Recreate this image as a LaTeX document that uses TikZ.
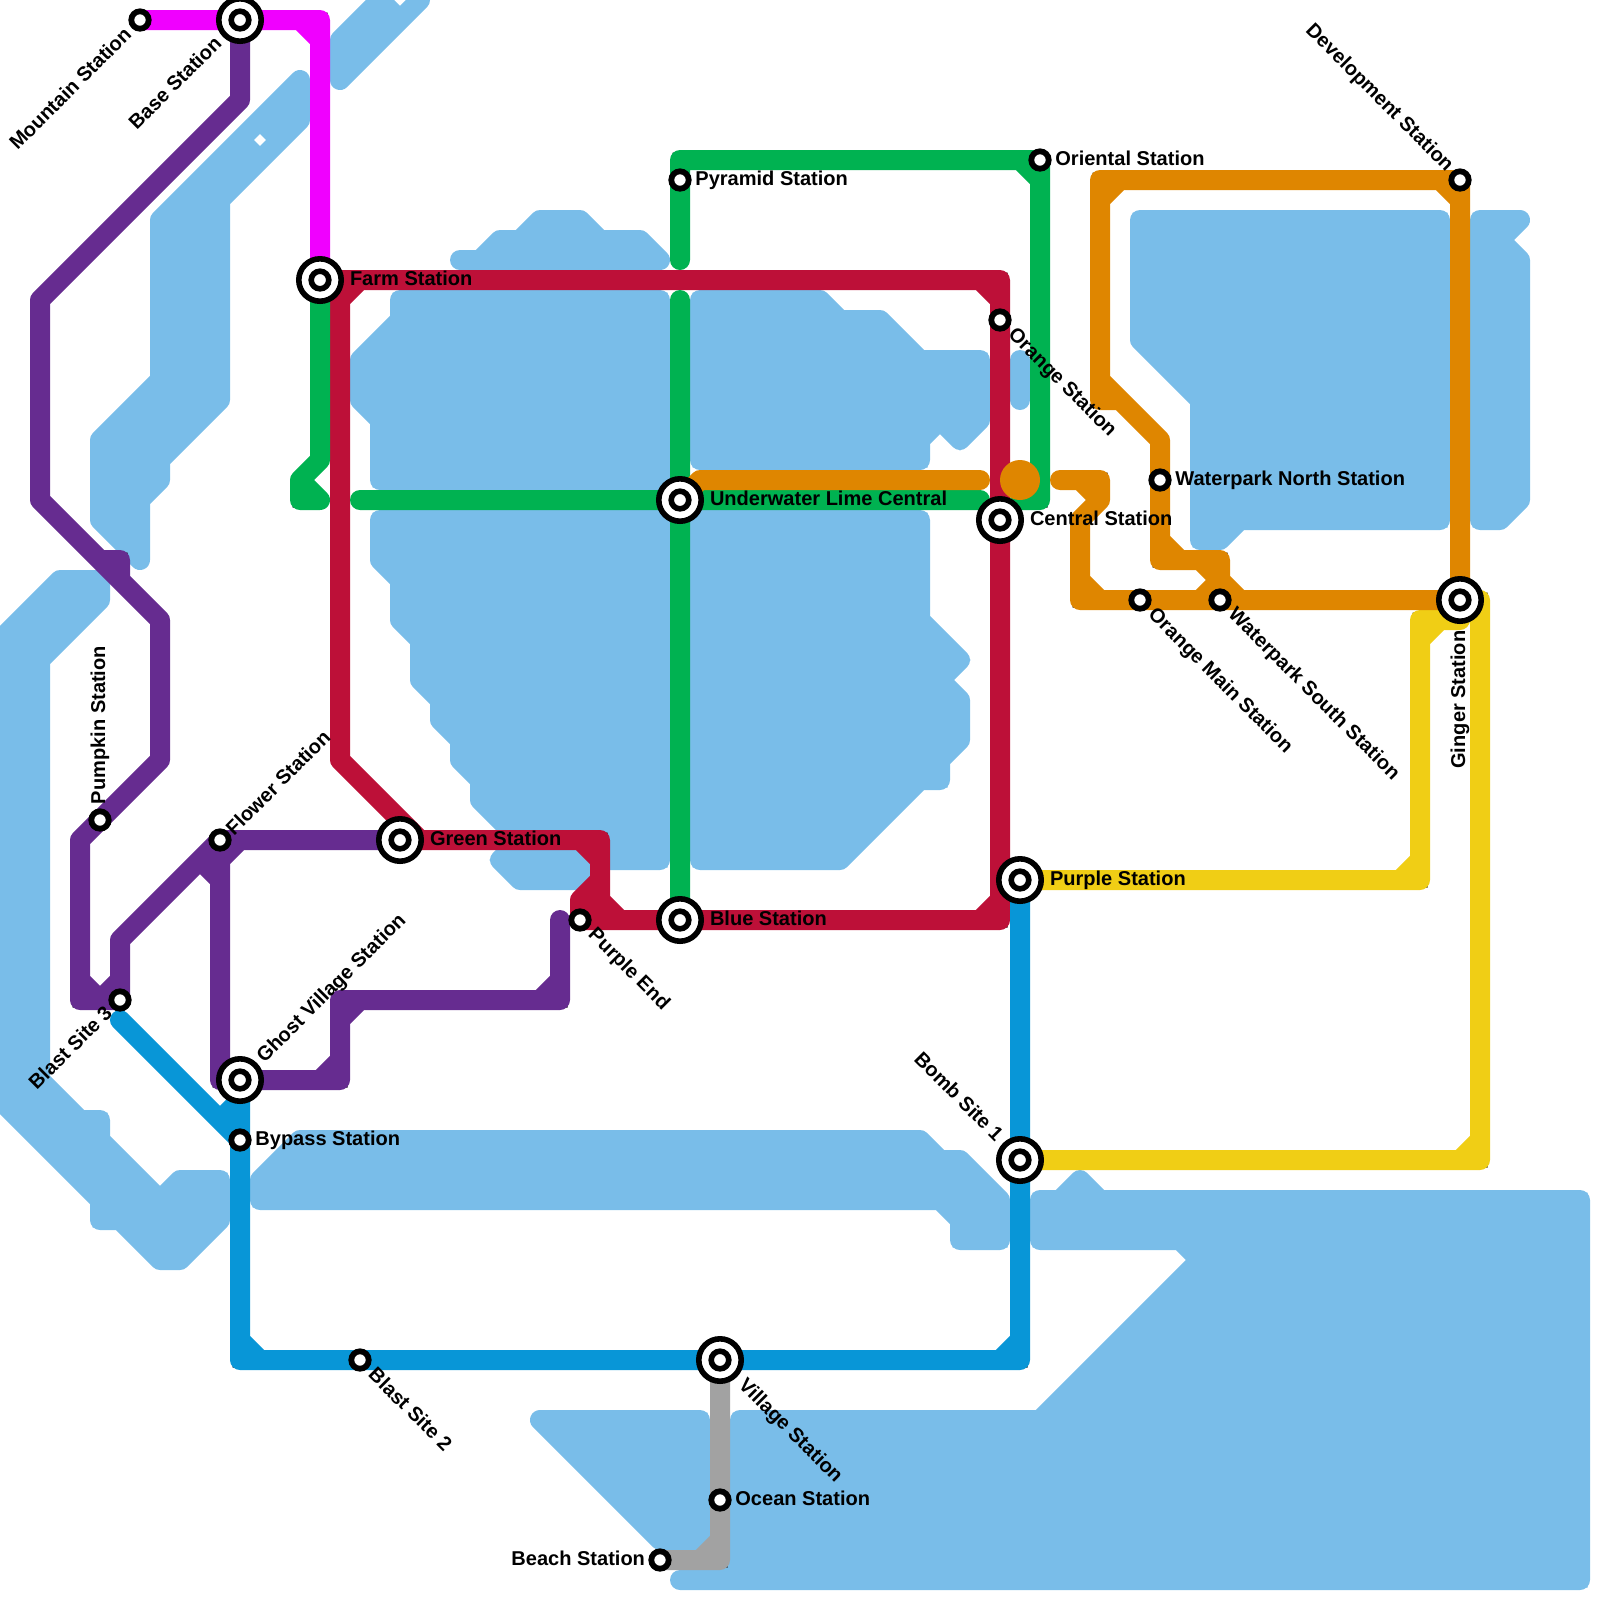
\documentclass[tikz,border=0pt]{standalone}
\usepackage{fontspec}
\setmainfont{Liberation Sans}

\definecolor{mapWater}{HTML}{79BDE9}
\definecolor{mapMagenta}{HTML}{F000FF}
\definecolor{mapPurple}{HTML}{662C90}
\definecolor{mapRed}{HTML}{BD1038}
\definecolor{mapGreen}{HTML}{00B251}
\definecolor{mapOrange}{HTML}{DF8600}
\definecolor{mapYellow}{HTML}{F0CE15}
\definecolor{mapBlue}{HTML}{0896D7}
\definecolor{mapGrey}{HTML}{A2A2A2}

\begin{document}
\begin{tikzpicture}[x=0.2cm,y=-0.2cm]

% --- Styles ---
\tikzset{
    waterArea/.style={
        fill=mapWater,
        draw=mapWater,
        line width=2mm,
        line cap=round,
        line join=round,
        preaction={draw=mapWater,line width=1.5mm,line join=miter,miter limit=1.5}
    },
    metroLine/.style={
        line width=2mm,
        line cap=round,
        line join=round,
        preaction={draw,line width=1.5mm,line join=miter,miter limit=1.5}
    },
    stopSmall/.style={
        circle,
        draw=black,
        fill=white,
        line width=0.58mm,
        inner sep=0pt,
        outer sep=0pt,
        minimum size=1.74mm
    },
    stopHub/.style={
        circle,
        draw=black,
        fill=white,
        line width=0.56mm,
        inner sep=0pt,
        outer sep=0pt,
        minimum size=4.24mm,
        path picture={
            \draw[black,line width=0.56mm] (path picture bounding box.center) circle (0.88mm);
        }
    },
    orangeDot/.style={
        circle,
        fill=mapOrange,
        inner sep=0pt,
        outer sep=0pt,
        minimum size=4mm
    },
    stopLabel/.style={
        font=\fontsize{5.7}{6}\selectfont\bfseries,
        inner sep=0pt,
        outer sep=0pt,
        text height=1.4mm,
        text depth=0pt
    }
}

\useasboundingbox (0,0) rectangle (80,80);

% =========================================================
% Station positions
% =========================================================

\coordinate (mountain) at (7,1);
\coordinate (base) at (12,1);
\coordinate (farm) at (16,14);
\coordinate (pyramid) at (34,9);
\coordinate (oriental) at (52,8);
\coordinate (orangeSt) at (50,16);
\coordinate (underwater) at (34,25);
\coordinate (central) at (50,26);
\coordinate (waterNorth) at (58,24);
\coordinate (waterSouth) at (61,30);
\coordinate (orangeMain) at (57,30);
\coordinate (development) at (73,9);
\coordinate (ginger) at (73,30);
\coordinate (pumpkin) at (5,41);
\coordinate (flower) at (11,42);
\coordinate (greenSt) at (20,42);
\coordinate (blastThree) at (6,50);
\coordinate (ghost) at (12,54);
\coordinate (bypass) at (12,57);
\coordinate (blastTwo) at (18,68);
\coordinate (purpleEnd) at (29,46);
\coordinate (blueSt) at (34,46);
\coordinate (purpleSt) at (51,44);
\coordinate (bombOne) at (51,58);
\coordinate (village) at (36,68);
\coordinate (ocean) at (36,75);
\coordinate (beach) at (33,78);

% =========================================================
% Water
% =========================================================

% Top left
\filldraw[waterArea] (17,4) -- (17,2) -- (19,0) -- (20,1) -- (21,0) -- cycle;
\filldraw[waterArea] (15,4) -- (15,6) -- (11,10) -- (11,20) -- (8,23) -- (8,24) -- (7,25) -- (7,28)
    -- (5,26) -- (5,22) -- (8,19) -- (8,11) -- cycle;
\fill[white] (13,6.71) -- (13.29,7) -- (13,7.29) -- (12.71,7) -- cycle;

% Centre
\filldraw[waterArea] (23,13) -- (24,13) -- (25,12) -- (26,12) -- (27,11) -- (29,11) -- (30,12)
    -- (32,12) -- (33,13) -- cycle;
\filldraw[waterArea] (20,15) -- (33,15) -- (33,24) -- (19,24) -- (19,21) -- (18,20) -- (18,18)
    -- (20,16) -- cycle;
\filldraw[waterArea] (19,26) -- (33,26) -- (33,43) -- (31,43) -- (30,43) -- (29,44) -- (26,44)
    -- (25,43) -- (26,42) -- (24,40) -- (24,39) -- (23,38) -- (23,37) -- (22,36) -- (22,35)
    -- (21,34) -- (21,32) -- (20,31) -- (20,29) -- (19,28) -- cycle;
\filldraw[waterArea] (35,15) -- (41,15) -- (42,16) -- (44,16) -- (46,18) -- (49,18) -- (49,21)
    -- (48,22) -- (47,21) -- (46,22) -- (46,23) -- (35,23) -- cycle;
\filldraw[waterArea] (35,26) -- (46,26) -- (46,31) -- (48,33) -- (47,34) -- (48,35) -- (48,37)
    -- (47,38) -- (47,39) -- (46,39) -- (42,43) -- (35,43) -- cycle;
\draw[waterArea] (51,18) -- (51,20);

% Top right
\filldraw[waterArea] (57,11) -- (72,11) -- (72,26) -- (62,26) -- (61,27) -- (60,27) -- (60,20)
    -- (57,17) -- cycle;
\filldraw[waterArea] (74,11) -- (76,11) -- (75,12) -- (76,13) -- (76,25) -- (75,26) -- (74,26) -- cycle;

% Left edge
\filldraw[waterArea] (3,29) -- (5,29) -- (5,30) -- (2,33) -- (2,54) -- (4,56) -- (5,56) -- (5,57)
    -- (8,60) -- (9,59) -- (11,59) -- (11,61) -- (9,63) -- (8,63) -- (6,61) -- (5,61) -- (5,60)
    -- (-1,54) -- (-1,33) -- cycle;

% Bottom
\filldraw[waterArea] (13,59) -- (15,57) -- (46,57) -- (47,58) -- (48,58) -- (50,60) -- (50,62)
    -- (48,62) -- (48,61) -- (47,60) -- (13,60) -- cycle;
\filldraw[waterArea] (52,60) -- (53,60) -- (54,59) -- (55,60) -- (79,60) -- (79,79) -- (34,79)
    -- (36,79) -- (36,78) -- (37,78) -- (37,71) -- (52,71) -- (60,63) -- (59,62) -- (52,62) -- cycle;
\filldraw[waterArea] (27,71) -- (35,71) -- (35,77) -- (33,77) -- cycle;

% =========================================================
% Lines
% =========================================================

% Magenta
\draw[metroLine,mapMagenta] (mountain) -- (base) -- (16,1) -- (farm)
    (15,1) -- (16,2);

% Purple
\draw[metroLine,mapPurple] (base) -- (12,5) -- (2,15) -- (2,25) -- (8,31) -- (8,38) -- (pumpkin)
    -- (4,42) -- (4,50) -- (blastThree) -- (6,47) -- (flower) -- (greenSt)
    (5,28) -- (6,28) -- (6,29)
    (4,49) -- (5,50) -- (6,49)
    (flower) -- (11,54) -- (ghost) -- (17,54) -- (17,50) -- (28,50) -- (28,46)
    (11,43) -- (12,42)
    (10,43) -- (11,44)
    (16,54) -- (17,53)
    (17,51) -- (18,50)
    (27,50) -- (28,49);

% Red
\draw[metroLine,mapRed] (farm) -- (50,14) -- (orangeSt) -- (central) -- (50,46) -- (blueSt)
    -- (purpleEnd) -- (29,45) -- (30,44)
    (17,14) -- (17,38) -- (21,42) -- (30,42) -- (30,46)
    (49,14) -- (50,15)
    (17,15) -- (18,14)
    (29,42) -- (30,43)
    (30,45) -- (31,46)
    (49,46) -- (50,45);

% Green
\draw[metroLine,mapGreen] (34,13) -- (pyramid) -- (34,8) -- (oriental) -- (52,25) -- (51,25)
    (18,25) -- (underwater) -- (49,25)
    (34,15) -- (underwater) -- (blueSt)
    (farm) -- (16,23) -- (15,24) -- (15,25) -- (16,25) -- (15,24)
    (51,8) -- (52,9);

% Yellow
\draw[metroLine,mapYellow] (purpleSt) -- (71,44) -- (71,31) -- (73,31)
    (ginger) -- (74,30) -- (74,58) -- (bombOne)
    (70,44) -- (71,43)
    (71,32) -- (72,31)
    (73,58) -- (74,57);

% Orange
\draw[metroLine,mapOrange] (development) -- (55,9) -- (55,19) -- (58,22) -- (waterNorth) -- (58,28)
    -- (61,28) -- (waterSouth)
    (61,29) -- (62,30)
    (55,19) -- (55,20) -- (56,20)
    (development) -- (ginger)
    (72,9) -- (73,10)
    (55,10) -- (56,9)
    (53,24) -- (55,24) -- (55,25) -- (54,26) -- (54,30) -- (orangeMain) -- (waterSouth) -- (ginger)
    (54,24) -- (55,25)
    (54,29) -- (55,30)
    (60,28) -- (61,29) -- (60,30)
    (58,27) -- (59,28)
    (underwater) -- (35,24) -- (49,24);
\node[orangeDot] (orangeBlob) at (51,24) {};

% Blue
\draw[metroLine,mapBlue] (purpleSt) -- (bombOne) -- (51,68) -- (village) -- (blastTwo) -- (12,68)
    -- (bypass) -- (ghost)
    (6,51) -- (bypass)
    (50,68) -- (51,67)
    (12,67) -- (13,68)
    (11,56) -- (12,55);

% Grey
\draw[metroLine,mapGrey] (village) -- (ocean) -- (36,78) -- (beach)
    (35,78) -- (36,77);

% =========================================================
% Stations
% =========================================================

\node[stopHub] (baseStop) at (base) {};
\node[stopHub] (farmStop) at (farm) {};
\node[stopHub] (underwaterStop) at (underwater) {};
\node[stopHub] (centralStop) at (central) {};
\node[stopHub] (gingerStop) at (ginger) {};
\node[stopHub] (greenStop) at (greenSt) {};
\node[stopHub] (ghostStop) at (ghost) {};
\node[stopHub] (blueStop) at (blueSt) {};
\node[stopHub] (purpleStop) at (purpleSt) {};
\node[stopHub] (bombOneStop) at (bombOne) {};
\node[stopHub] (villageStop) at (village) {};

\node[stopSmall] (mountainStop) at (mountain) {};
\node[stopSmall] (pyramidStop) at (pyramid) {};
\node[stopSmall] (orientalStop) at (oriental) {};
\node[stopSmall] (orangeStop) at (orangeSt) {};
\node[stopSmall] (waterNorthStop) at (waterNorth) {};
\node[stopSmall] (waterSouthStop) at (waterSouth) {};
\node[stopSmall] (orangeMainStop) at (orangeMain) {};
\node[stopSmall] (developmentStop) at (development) {};
\node[stopSmall] (pumpkinStop) at (pumpkin) {};
\node[stopSmall] (flowerStop) at (flower) {};
\node[stopSmall] (blastThreeStop) at (blastThree) {};
\node[stopSmall] (bypassStop) at (bypass) {};
\node[stopSmall] (blastTwoStop) at (blastTwo) {};
\node[stopSmall] (purpleEndStop) at (purpleEnd) {};
\node[stopSmall] (oceanStop) at (ocean) {};
\node[stopSmall] (beachStop) at (beach) {};

% =========================================================
% Labels
% =========================================================

% Horizontal
\node[stopLabel,anchor=west] (farmLabel) at (17.5,13.92) {Farm Station};
\node[stopLabel,anchor=west] (greenLabel) at (21.5,41.92) {Green Station};
\node[stopLabel,anchor=west] (underwaterLabel) at (35.5,24.93) {Underwater Lime Central};
\node[stopLabel,anchor=west] (centralLabel) at (51.5,25.92) {Central Station};
\node[stopLabel,anchor=west] (purpleLabel) at (52.5,43.92) {Purple Station};
\node[stopLabel,anchor=west] (blueLabel) at (35.5,45.92) {Blue Station};
\node[stopLabel,anchor=west] (pyramidLabel) at (34.77,8.91) {Pyramid Station};
\node[stopLabel,anchor=west] (orientalLabel) at (52.77,7.91) {Oriental Station};
\node[stopLabel,anchor=west] (waterNorthLabel) at (58.77,23.91) {Waterpark North Station};
\node[stopLabel,anchor=west] (oceanLabel) at (36.77,74.91) {Ocean Station};
\node[stopLabel,anchor=west] (bypassLabel) at (12.77,56.91) {Bypass Station};
\node[stopLabel,anchor=east] (beachLabel) at (32.25,77.91) {Beach Station};

% Vertical
\node[stopLabel,anchor=west,rotate=90] (pumpkinLabel) at (4.9,40.2) {Pumpkin Station};
\node[stopLabel,anchor=east,rotate=90] (gingerLabel) at (72.9,31.53) {Ginger Station};

% Rising
\node[stopLabel,anchor=west,rotate=45] (flowerLabel) at (11.46,41.58) {Flower Station};
\node[stopLabel,anchor=west,rotate=45] (ghostLabel) at (12.98,52.94) {Ghost Village Station};
\node[stopLabel,anchor=east,rotate=45] (mountainLabel) at (6.38,1.55) {Mountain Station};
\node[stopLabel,anchor=east,rotate=45] (baseLabel) at (10.89,2) {Base Station};
\node[stopLabel,anchor=east,rotate=45] (blastThreeLabel) at (5.42,50.47) {Blast Site 3};

% Falling
\node[stopLabel,anchor=west,rotate=-45] (orangeLabel) at (50.62,16.55) {Orange Station};
\node[stopLabel,anchor=west,rotate=-45] (orangeMainLabel) at (57.62,30.55) {Orange Main Station};
\node[stopLabel,anchor=west,rotate=-45] (waterSouthLabel) at (61.62,30.55) {Waterpark South Station};
\node[stopLabel,anchor=west,rotate=-45] (purpleEndLabel) at (29.62,46.55) {Purple End};
\node[stopLabel,anchor=west,rotate=-45] (blastTwoLabel) at (18.62,68.55) {Blast Site 2};
\node[stopLabel,anchor=west,rotate=-45] (villageLabel) at (37.13,69.06) {Village Station};
\node[stopLabel,anchor=east,rotate=-45] (developmentLabel) at (72.54,8.38) {Development Station};
\node[stopLabel,anchor=east,rotate=-45] (bombOneLabel) at (50,56.87) {Bomb Site 1};

\end{tikzpicture}
\end{document}
